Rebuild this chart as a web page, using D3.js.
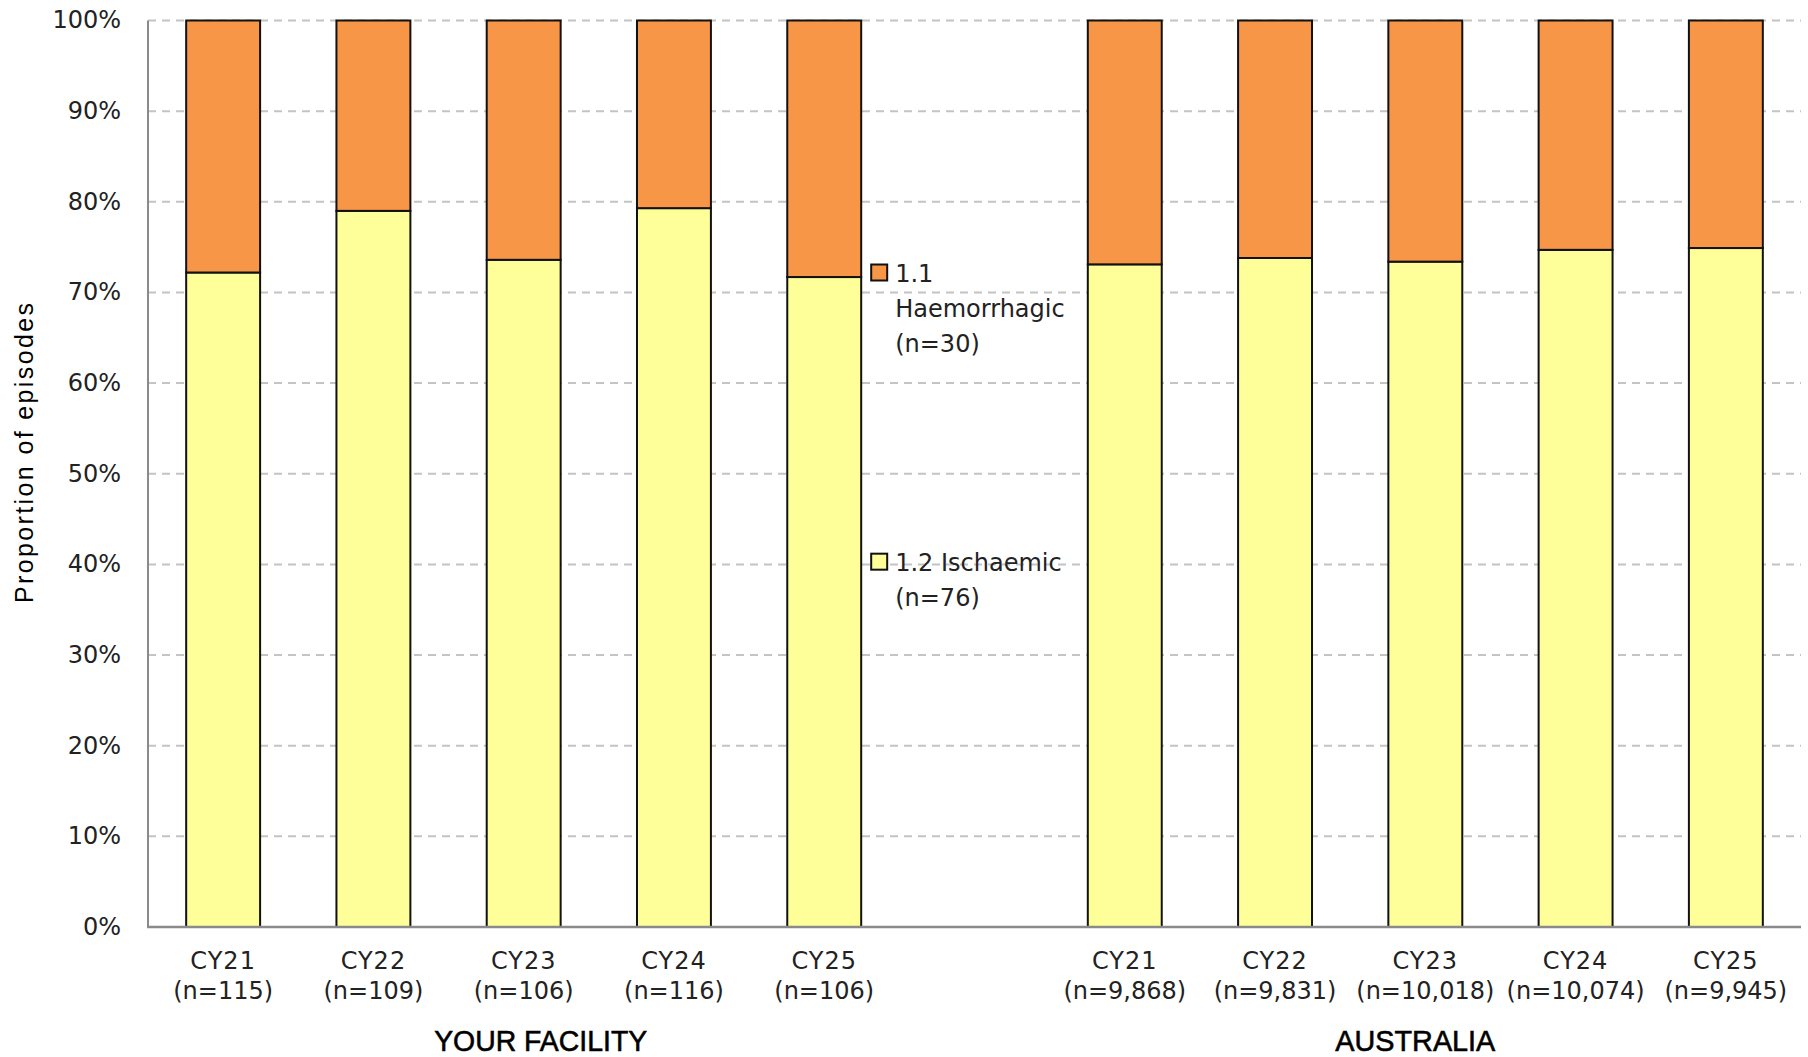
<!DOCTYPE html>
<html>
<head>
<meta charset="utf-8">
<script src="https://cdn.jsdelivr.net/npm/d3@7"></script>
<style>
  html, body { margin: 0; padding: 0; background: #fff; }
  svg { display: block; }
</style>
</head>
<body>
<svg id="chart" width="1808" height="1057"></svg>
<script>
// ---- data ----
const years = ["CY21", "CY22", "CY23", "CY24", "CY25"];
const facilityN = ["115", "109", "106", "116", "106"];
const australiaN = ["9,868", "9,831", "10,018", "10,074", "9,945"];
const facilityIschaemic = [72.2, 79.0, 73.6, 79.3, 71.7];
const facilityHaemorrhagic = [27.8, 21.0, 26.4, 20.7, 28.3];
const australiaIschaemic = [73.1, 73.8, 73.4, 74.7, 74.9];
const australiaHaemorrhagic = [26.9, 26.2, 26.6, 25.3, 25.1];
const groupNames = ["YOUR FACILITY", "AUSTRALIA"];
const seriesNames = ["1.1 Haemorrhagic", "1.2 Ischaemic"];
const legendLines = [["1.1", "Haemorrhagic", "(n=30)"], ["1.2 Ischaemic", "(n=76)"]];
const yTicks = [0, 10, 20, 30, 40, 50, 60, 70, 80, 90, 100];
const yTitle = "Proportion of episodes";

const colors = { "1.1 Haemorrhagic": "#F79646", "1.2 Ischaemic": "#FFFF99" };

(function () {
// build slots: 5 facility, 1 gap, 5 australia
const slots = [];
years.forEach((yr, i) => slots.push({ key: "F" + i, year: yr, n: facilityN[i], isch: facilityIschaemic[i], haem: facilityHaemorrhagic[i], group: 0 }));
slots.push({ key: "gap", gap: true });
years.forEach((yr, i) => slots.push({ key: "A" + i, year: yr, n: australiaN[i], isch: australiaIschaemic[i], haem: australiaHaemorrhagic[i], group: 1 }));

const svg = d3.select("#chart");
const mLeft = 148, mRight = 1801, mTop = 20.5, mBottom = 927;
const font = "'DejaVu Sans', sans-serif";

const x = d3.scaleBand().domain(slots.map(d => d.key)).range([mLeft, mRight])
  .paddingInner(0.508).paddingOuter(0.254);
const y = d3.scaleLinear().domain([0, 100]).range([mBottom, mTop]);

// gridlines
svg.append("g").selectAll("line").data(yTicks.filter(t => t > 0)).join("line")
  .attr("x1", mLeft).attr("x2", mRight)
  .attr("y1", d => y(d)).attr("y2", d => y(d))
  .attr("stroke", "#c4c4c4").attr("stroke-width", 2).attr("stroke-dasharray", "8,6");

// y tick labels
svg.append("g").selectAll("text").data(yTicks).join("text")
  .attr("x", 121).attr("y", d => y(d)).attr("dy", "0.33em")
  .attr("text-anchor", "end").attr("font-family", font).attr("font-size", 24)
  .attr("fill", "#222").text(d => d + "%");

// y axis title
svg.append("text")
  .attr("transform", `translate(33,453) rotate(-90)`)
  .attr("text-anchor", "middle").attr("font-family", "'Liberation Sans', Arial, sans-serif")
  .attr("font-size", 25).attr("fill", "#000")
  .attr("textLength", 300).attr("lengthAdjust", "spacing")
  .text(yTitle);

// bars
const data = slots.filter(d => !d.gap);
const barG = svg.append("g");
data.forEach(d => {
  barG.append("rect")
    .attr("x", x(d.key)).attr("width", x.bandwidth())
    .attr("y", y(d.isch)).attr("height", y(0) - y(d.isch))
    .attr("fill", colors[seriesNames[1]]).attr("stroke", "#111").attr("stroke-width", 2);
  barG.append("rect")
    .attr("x", x(d.key)).attr("width", x.bandwidth())
    .attr("y", y(d.isch + d.haem)).attr("height", y(d.isch) - y(d.isch + d.haem))
    .attr("fill", colors[seriesNames[0]]).attr("stroke", "#111").attr("stroke-width", 2);
});

// axes lines
svg.append("line").attr("x1", mLeft).attr("x2", mLeft).attr("y1", mTop).attr("y2", mBottom)
  .attr("stroke", "#8a8a8a").attr("stroke-width", 2);
svg.append("line").attr("x1", mLeft - 1).attr("x2", mRight).attr("y1", mBottom).attr("y2", mBottom)
  .attr("stroke", "#8a8a8a").attr("stroke-width", 2.5);

// category labels
const catG = svg.append("g").attr("font-family", font).attr("font-size", 24).attr("fill", "#222").attr("text-anchor", "middle");
data.forEach(d => {
  const cx = x(d.key) + x.bandwidth() / 2;
  catG.append("text").attr("x", cx).attr("y", 969).attr("letter-spacing", 1).text(d.year);
  catG.append("text").attr("x", cx).attr("y", 999).text("(n=" + d.n + ")");
});

// group labels
const groupCenters = [
  x("F2") + x.bandwidth() / 2 + 17,
  x("A2") + x.bandwidth() / 2 - 10
];
const groupWidths = [213, 160];
svg.append("g").selectAll("text").data(groupNames).join("text")
  .attr("x", (d, i) => groupCenters[i]).attr("y", 1051)
  .attr("text-anchor", "middle")
  .attr("font-family", "'Liberation Sans', sans-serif")
  .attr("font-size", 30).attr("fill", "#000")
  .attr("stroke", "#000").attr("stroke-width", 0.6)
  .attr("textLength", (d, i) => groupWidths[i]).attr("lengthAdjust", "spacingAndGlyphs")
  .text(d => d);

// legend (in the gap slot)
const lx = x("F4") + x.bandwidth() + 10;
const legendTops = [y(72.2), y(40.3)];
seriesNames.forEach((s, i) => {
  const g = svg.append("g");
  g.append("rect").attr("x", lx).attr("y", legendTops[i] - 8).attr("width", 16).attr("height", 16)
    .attr("fill", colors[s]).attr("stroke", "#111").attr("stroke-width", 2);
  legendLines[i].forEach((t, j) => {
    g.append("text").attr("x", lx + 24).attr("y", legendTops[i] + 9 + j * 35)
      .attr("font-family", font).attr("font-size", 24).attr("fill", "#222").text(t);
  });
});
})();
</script>
</body>
</html>
